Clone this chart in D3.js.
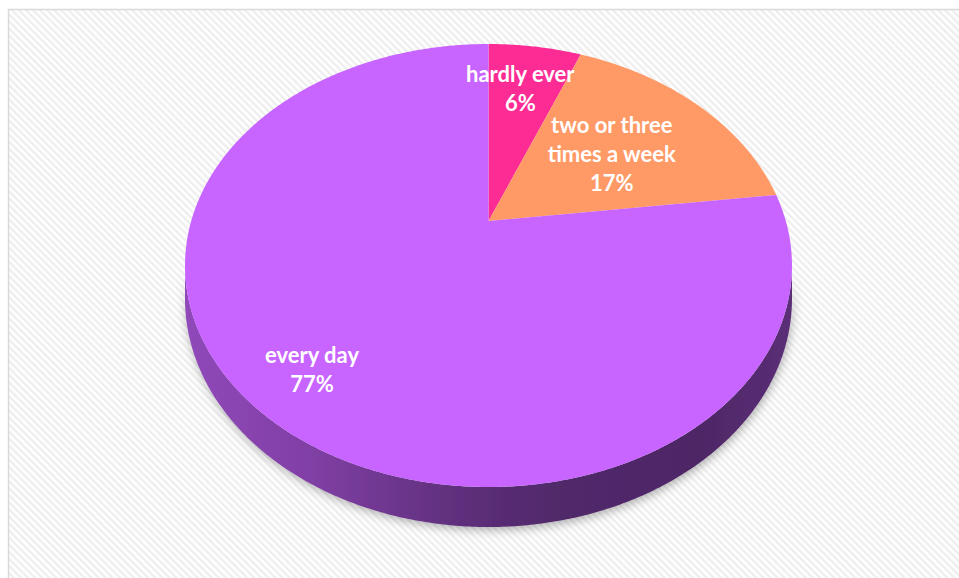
<!DOCTYPE html>
<html>
<head>
<meta charset="utf-8">
<script src="https://cdn.jsdelivr.net/npm/d3@7"></script>
<style>
  html, body { margin: 0; padding: 0; background: #ffffff; }
  svg { display: block; }
</style>
</head>
<body>
<svg id="chart" width="959" height="578"></svg>
<script>
// How often: share of answers (percent)
const categories = ["hardly ever", "two or three times a week", "every day"];
const labelLines = [["hardly ever"], ["two or three", "times a week"], ["every day"]];
const values = [6, 17, 77];
const colors = ["#FC2C94", "#FF9966", "#C864FF"];

const W = 959, H = 578;
const svg = d3.select("#chart");
const defs = svg.append("defs");

// diagonal hatch background
const pat = defs.append("pattern")
  .attr("id", "hatch").attr("patternUnits", "userSpaceOnUse")
  .attr("width", 5).attr("height", 5)
  .attr("patternTransform", "rotate(-45)");
pat.append("rect").attr("width", 5).attr("height", 5).attr("fill", "#ffffff");
pat.append("rect").attr("width", 2.4).attr("height", 5).attr("fill", "#eeeeee");

svg.append("rect").attr("width", W).attr("height", H).attr("fill", "#ffffff");
svg.append("rect")
  .attr("x", 8.5).attr("y", 9.5).attr("width", W + 20).attr("height", H + 20)
  .attr("fill", "url(#hatch)").attr("stroke", "#d9d9d9").attr("stroke-width", 1.5);

// perspective projection of the pie's top disc (unit circle -> screen)
const cx = 488.5, kx = 297.3;
const pY = 168.16, qY = 221, rW = -0.2009;
const depth = 32;          // thickness of the disc
function project(a, rho, drop) {
  const X = Math.sin(a) * rho, Z = -Math.cos(a) * rho;
  const w = 1 + rW * Z;
  return [cx + kx * X / w, (pY * Z + qY) / w + (drop ? depth / w : 0)];
}

const pie = d3.pie().sort(null).value(d => d);
const arcs = pie(values);
const line = d3.line();
const STEP = Math.PI / 360;
function sample(a0, a1) {
  const pts = [];
  const n = Math.max(2, Math.ceil((a1 - a0) / STEP));
  for (let i = 0; i <= n; i++) pts.push(a0 + (a1 - a0) * i / n);
  return pts;
}

// visible side range: between the left and right silhouette points of the rim
const all = sample(0, 2 * Math.PI);
let aR = 0, aL = 0, maxX = -Infinity, minX = Infinity;
all.forEach(a => {
  const [x] = project(a, 1, false);
  if (x > maxX) { maxX = x; aR = a; }
  if (x < minX) { minX = x; aL = a; }
});

// side shading, lit from the left, darkening toward the front-right
const shadeTo = "#1e0f2b";
arcs.forEach((d, i) => {
  const mix = d3.interpolateRgb(colors[i], shadeTo);
  const g = defs.append("linearGradient")
    .attr("id", "side" + i).attr("gradientUnits", "userSpaceOnUse")
    .attr("x1", minX).attr("x2", maxX).attr("y1", 0).attr("y2", 0);
  [[0, 0.33], [0.2, 0.42], [0.45, 0.62], [0.6, 0.70], [0.85, 0.72], [1, 0.64]].forEach(([o, k]) => {
    g.append("stop").attr("offset", o).attr("stop-color", mix(k));
  });
});

const shadow = defs.append("filter").attr("id", "soft")
  .attr("x", "-10%").attr("y", "-10%").attr("width", "120%").attr("height", "130%");
shadow.append("feDropShadow").attr("dx", 1).attr("dy", 3)
  .attr("stdDeviation", 5).attr("flood-color", "#000").attr("flood-opacity", 0.3);

const gPie = svg.append("g");

// side walls
const sideG = gPie.append("g").attr("filter", "url(#soft)");
arcs.forEach((d, i) => {
  const lo = Math.max(d.startAngle, aR), hi = Math.min(d.endAngle, aL);
  if (hi <= lo) return;
  const as = sample(lo, hi);
  const top = as.map(a => project(a, 1, false));
  const bot = as.slice().reverse().map(a => project(a, 1, true));
  sideG.append("path")
    .attr("d", line(top.concat(bot)) + "Z")
    .attr("fill", "url(#side" + i + ")");
});

// top faces
const apex = project(0, 0, false);
gPie.append("g").selectAll("path").data(arcs).join("path")
  .attr("d", d => line([apex].concat(sample(d.startAngle, d.endAngle).map(a => project(a, 1, false)))) + "Z")
  .attr("fill", (d, i) => colors[i]);

// data labels
const labelRho = [0.76, 0.6, 0.62];
const labelShift = [[-5, 6], [-8, 6], [-42, 40]];
const lh = 29;
const lab = svg.append("g")
  .attr("font-family", "Lato, 'Open Sans', sans-serif")
  .attr("font-weight", 700).attr("font-size", 22)
  .attr("fill", "#ffffff").attr("text-anchor", "middle");
arcs.forEach((d, i) => {
  const mid = (d.startAngle + d.endAngle) / 2;
  const [x0, y0] = project(mid, labelRho[i], false);
  const x = x0 + labelShift[i][0], y = y0 + labelShift[i][1];
  const lines = labelLines[i].concat([d3.format(".0f")(values[i]) + "%"]);
  const t = lab.append("text").attr("x", x).attr("y", y - (lines.length - 1) * lh / 2);
  lines.forEach((s, j) => {
    t.append("tspan").attr("x", x).attr("dy", j === 0 ? "0.35em" : lh).text(s);
  });
});
</script>
</body>
</html>
